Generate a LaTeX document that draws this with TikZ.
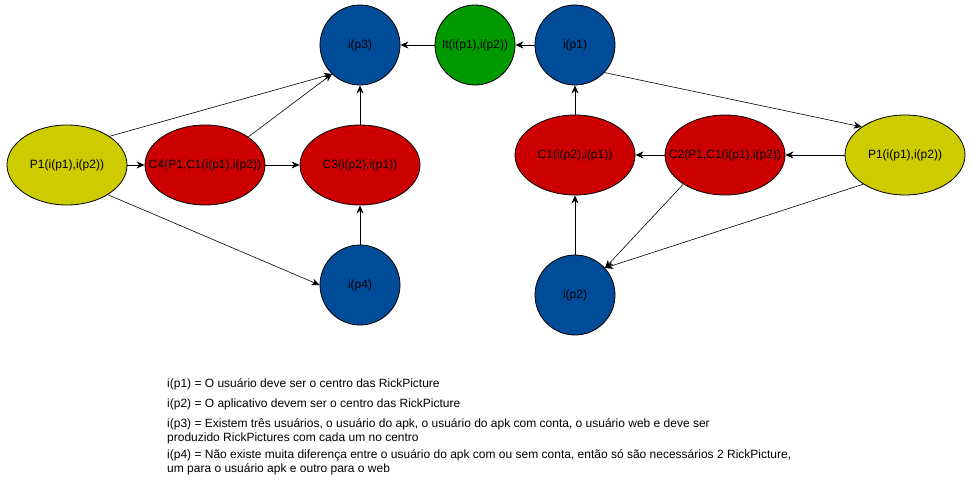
\documentclass[tikz,border=0pt]{standalone}
\usepackage{fontspec}
\setmainfont{Liberation Sans}
\usetikzlibrary{shapes.geometric,arrows.meta}
\definecolor{cblue}{HTML}{004C99}
\definecolor{cgreen}{HTML}{009900}
\definecolor{cred}{HTML}{CC0000}
\definecolor{cyel}{HTML}{CCCC00}
\newcommand\lbl[1]{\makebox[0pt]{#1}}
\begin{document}
\begin{tikzpicture}[x=1pt,y=-1pt,
  base/.style={draw=black,line width=0.8pt,inner sep=0pt,font=\fontsize{12}{14}\selectfont,text=black},
  circ/.style={base,circle,minimum size=80pt},
  ell/.style={base,ellipse,minimum width=120pt,minimum height=80pt},
  conn/.style={line width=0.8pt,-{Stealth[length=8pt,width=7pt,inset=2.5pt]}},
  thin/.style={line width=0.6pt,-{Stealth[length=8pt,width=7pt,inset=2.5pt]}},
  legend/.style={anchor=west,inner sep=0pt,align=left,font=\fontsize{12}{14}\selectfont}]
\useasboundingbox (0,0) rectangle (971,481);
\node[circ,fill=cblue] (ip3) at (360,45) {\lbl{i(p3)}};
\node[circ,fill=cgreen] (it) at (475,45) {\lbl{It(i(p1),i(p2))}};
\node[circ,fill=cblue] (ip1) at (575,45) {\lbl{i(p1)}};
\node[ell,fill=cyel] (p1l) at (67,165) {\lbl{P1(i(p1),i(p2))}};
\node[ell,fill=cred] (c4) at (205,165) {\lbl{C4(P1,C1(i(p1),i(p2))}};
\node[ell,fill=cred] (c3) at (360,165) {\lbl{C3(i(p2),i(p1))}};
\node[circ,fill=cblue] (ip4) at (360,285) {\lbl{i(p4)}};
\node[ell,fill=cred] (c1) at (575,155) {\lbl{C1(i(p2),i(p1))}};
\node[ell,fill=cred] (c2) at (725,155) {\lbl{C2(P1,C1(i(p1),i(p2))}};
\node[ell,fill=cyel] (p1r) at (905,155) {\lbl{P1(i(p1),i(p2))}};
\node[circ,fill=cblue] (ip2) at (575,295) {\lbl{i(p2)}};

\draw[conn] (it) -- (ip3);
\draw[conn] (ip1) -- (it);
\draw[conn] (p1l) -- (c4);
\draw[conn] (c4) -- (c3);
\draw[conn] (c3) -- (ip3);
\draw[conn] (ip4) -- (c3);
\draw[thin] (p1l.34) -- (ip3.226);
\draw[thin] (c4.33) -- (ip3.226);
\draw[thin] (p1l.324) -- (ip4.180);
\draw[conn] (c1) -- (ip1);
\draw[thin] (ip1.317) -- (p1r.147);
\draw[conn] (p1r) -- (c2);
\draw[conn] (c2) -- (c1);
\draw[conn] (ip2) -- (c1);
\draw[thin] (c2.215) -- (ip2.42);
\draw[thin] (p1r.215) -- (ip2.42);

\node[legend] (l1) at (167,384) {i(p1) = O usuário deve ser o centro das RickPicture};
\node[legend] (l2) at (167,404) {i(p2) = O aplicativo devem ser o centro das RickPicture};
\node[legend] (l3) at (167,431.5) {i(p3) = Existem três usuários, o usuário do apk, o usuário do apk com conta, o usuário web e deve ser\\produzido RickPictures com cada um no centro};
\node[legend] (l4) at (167,462) {i(p4) = Não existe muita diferença entre o usuário do apk com ou sem conta, então só são necessários 2 RickPicture,\\um para o usuário apk e outro para o web};
\end{tikzpicture}
\end{document}
